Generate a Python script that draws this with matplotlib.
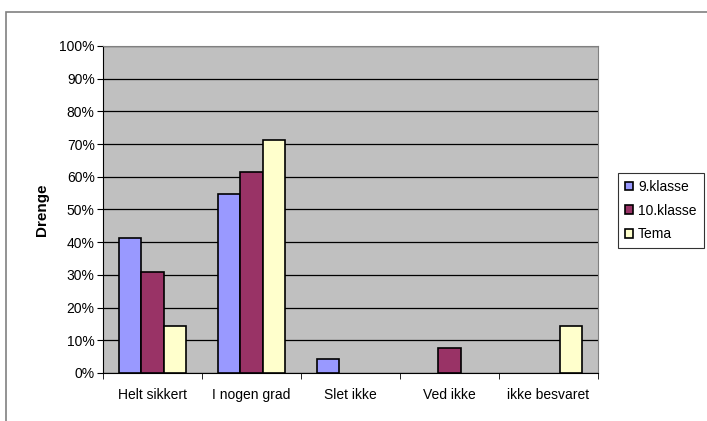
import numpy as np
import matplotlib.pyplot as plt
from matplotlib.patches import Rectangle
from matplotlib.ticker import PercentFormatter, MultipleLocator

plt.rcParams['font.family'] = ['Liberation Sans', 'DejaVu Sans']

categories = ['Helt sikkert', 'I nogen grad', 'Slet ikke', 'Ved ikke', 'ikke besvaret']
series_names = ['9.klasse', '10.klasse', 'Tema']
klasse9 = [41.2, 54.7, 4.3, 0, 0]
klasse10 = [30.8, 61.5, 0, 7.7, 0]
tema = [14.3, 71.4, 0, 0, 14.3]
colors = ['#9999FF', '#993366', '#FFFFCC']

fig = plt.figure(figsize=(7.07, 4.21), dpi=100)
fig.patch.set_facecolor('white')
# outer chart border (only top/left visible in the original crop)
fig.patches.append(Rectangle((6 / 707, -0.1), 1.2, (421 - 12) / 421 + 0.1,
                             transform=fig.transFigure, fill=False,
                             edgecolor='#808080', linewidth=1.2))

ax = fig.add_axes([103 / 707, (421 - 373) / 421, (598 - 103) / 707, (373 - 46) / 421])
ax.set_facecolor('#C0C0C0')

x = np.arange(len(categories))
w = 0.227
for i, (vals, name) in enumerate(zip([klasse9, klasse10, tema], series_names)):
    vals = np.ma.masked_equal(np.array(vals, dtype=float), 0)
    ax.bar(x + (i - 1) * w, vals, w, color=colors[i], edgecolor='black',
           linewidth=1.2, label=name, zorder=3)

ax.set_xlim(-0.5, len(categories) - 0.5)
ax.set_ylim(0, 100)
ax.yaxis.set_major_locator(MultipleLocator(10))
ax.yaxis.set_major_formatter(PercentFormatter(decimals=0))
ax.grid(axis='y', color='black', linewidth=0.9, zorder=1)

ax.set_xticks(x)
ax.set_xticklabels(categories, fontsize=10)
ax.set_xticks(np.arange(len(categories) + 1) - 0.5, minor=True)
ax.tick_params(axis='x', which='major', length=0, pad=11)
ax.tick_params(axis='x', which='minor', length=4, direction='out', color='black')
ax.tick_params(axis='y', length=4, direction='out', labelsize=10, pad=2)

for side in ['top', 'right']:
    ax.spines[side].set_color('#808080')
for side in ['left', 'bottom']:
    ax.spines[side].set_color('black')

fig.text(42 / 707, 1 - 210 / 421, 'Drenge', rotation=90, fontsize=11,
         fontweight='bold', ha='center', va='center')

handles, labels = ax.get_legend_handles_labels()
leg = fig.legend(handles, labels, loc='upper left',
                 bbox_to_anchor=(618 / 707, 1 - 173 / 421),
                 fontsize=10, frameon=True, fancybox=False,
                 edgecolor='black', handlelength=0.6, handleheight=0.6,
                 handletextpad=0.35, labelspacing=0.7, borderpad=0.5,
                 borderaxespad=0)
leg.get_frame().set_linewidth(0.8)

fig.savefig('out.png', dpi=100)
